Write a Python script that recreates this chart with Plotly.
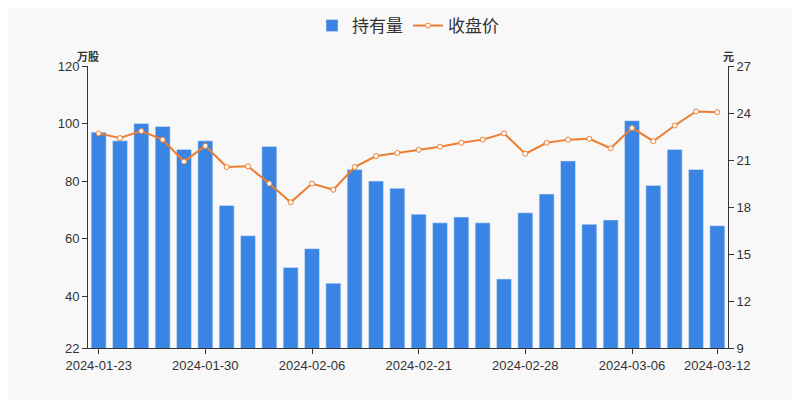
import plotly.graph_objects as go

dates = ["2024-01-23","2024-01-24","2024-01-25","2024-01-26","2024-01-29","2024-01-30","2024-01-31",
         "2024-02-01","2024-02-02","2024-02-05","2024-02-06","2024-02-07","2024-02-08",
         "2024-02-19","2024-02-20","2024-02-21","2024-02-22","2024-02-23",
         "2024-02-26","2024-02-27","2024-02-28","2024-02-29","2024-03-01",
         "2024-03-04","2024-03-05","2024-03-06","2024-03-07","2024-03-08","2024-03-11","2024-03-12"]
holdings = [97, 94, 100, 99, 91, 94, 71.5, 61, 92, 50, 56.5, 44.5, 84, 80, 77.5, 68.5, 65.5, 67.5,
            65.5, 46, 69, 75.5, 87, 65, 66.5, 101, 78.5, 91, 84, 64.5]
close = [22.7, 22.4, 22.85, 22.3, 20.9, 21.9, 20.55, 20.6, 19.5, 18.3, 19.5, 19.1, 20.55, 21.25,
         21.45, 21.65, 21.85, 22.1, 22.3, 22.7, 21.4, 22.1, 22.3, 22.35, 21.75, 23.05, 22.2, 23.2,
         24.1, 24.05]
tick_labels = [dates[i] for i in (0, 5, 10, 15, 20, 25, 29)]

fig = go.Figure()
fig.add_trace(go.Bar(x=dates, y=holdings, name="持有量", marker_color="#3a84e4", width=0.7))
fig.add_trace(go.Scatter(x=dates, y=close, name="收盘价", yaxis="y2", mode="lines+markers",
                         line=dict(color="#ed7d31", width=2),
                         marker=dict(size=5, color="white", line=dict(color="#ed7d31", width=1))))
fig.update_layout(
    width=800, height=400, paper_bgcolor="#f8f8f8", plot_bgcolor="#f8f8f8",
    margin=dict(l=80, r=80, t=58, b=60, autoexpand=False),
    font=dict(family="Liberation Sans, Arial, sans-serif", color="#333", size=13),
    showlegend=True,
    legend=dict(orientation="h", x=0.5, xanchor="center", y=1.0, yanchor="top", yref="container",
                font=dict(size=17, family="Noto Sans CJK SC"), bgcolor="rgba(0,0,0,0)"),
    xaxis=dict(type="category", tickmode="array", tickvals=tick_labels, ticktext=tick_labels,
               showline=True, linecolor="#333", ticks="outside", tickcolor="#333",
               showgrid=False, range=[-0.5, 29.5]),
    yaxis=dict(range=[22, 120], tickvals=[22, 40, 60, 80, 100, 120], showgrid=False,
               showline=True, linecolor="#333", ticks="outside", tickcolor="#333", zeroline=False),
    yaxis2=dict(range=[9, 27], tickvals=[9, 12, 15, 18, 21, 24, 27], overlaying="y", side="right",
                showgrid=False, showline=True, linecolor="#333", ticks="outside", tickcolor="#333",
                zeroline=False),
    annotations=[
        dict(text="<b>万股</b>", xref="paper", yref="paper", x=0.0, y=1.071, xanchor="center",
             showarrow=False, font=dict(size=11, family="Noto Sans CJK SC")),
        dict(text="<b>元</b>", xref="paper", yref="paper", x=1.0, y=1.071, xanchor="center",
             showarrow=False, font=dict(size=11, family="Noto Sans CJK SC")),
    ],
)
fig.write_html("out.html")
